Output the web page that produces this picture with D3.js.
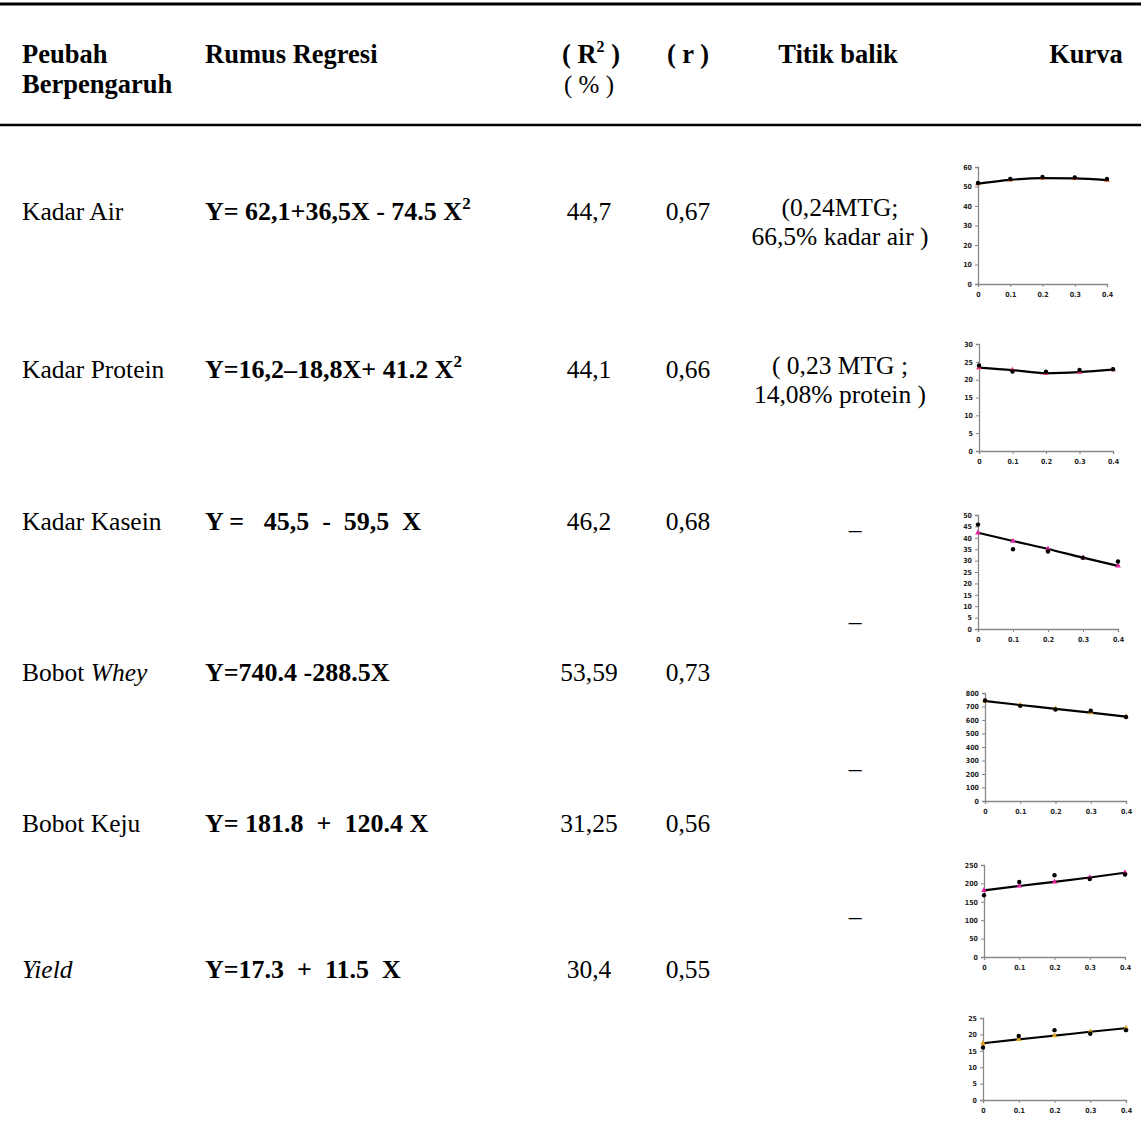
<!DOCTYPE html>
<html>
<head>
<meta charset="utf-8">
<script src="https://cdn.jsdelivr.net/npm/d3@7"></script>
<style>
  body { margin: 0; background: #fff; }
  svg { display: block; }
  .cell { font-family: "Liberation Serif", "Times New Roman", serif; font-size: 25.5px; fill: #000; }
  .head { font-weight: bold; font-size: 26.5px; }
  .mini text { font-family: "DejaVu Sans Condensed", "DejaVu Sans", sans-serif; font-size: 7px; font-weight: bold; fill: #222; }
</style>
</head>
<body>
<svg id="tabel" width="1141" height="1128"></svg>
<script>
// isi tabel
const peubah = ['Kadar Air', 'Kadar Protein', 'Kadar Kasein', 'Bobot |Whey|', 'Bobot Keju', '|Yield|'];
const rumus = ['Y= 62,1+36,5X - 74.5 X^2', 'Y=16,2\u201318,8X+ 41.2 X^2', 'Y =   45,5  -  59,5  X',
  'Y=740.4 -288.5X', 'Y= 181.8  +  120.4 X', 'Y=17.3  +  11.5  X'];
const rSquare = ['44,7', '44,1', '46,2', '53,59', '31,25', '30,4'];
const rValue = ['0,67', '0,66', '0,68', '0,73', '0,56', '0,55'];
const titikBalik = [['(0,24MTG;', '66,5% kadar air )'], ['( 0,23 MTG ;', '14,08% protein )'], ['\u2013'], ['\u2013'], ['\u2013'], ['\u2013']];

// data kurva
const dosis = [0, 0.1, 0.2, 0.3, 0.4];
const airObs = [51.8, 53.9, 54.9, 54.6, 53.9];
const airFit = [51.5, 53.4, 54.3, 54.2, 53.3];
const proteinObs = [24.0, 22.3, 22.2, 22.7, 22.9];
const proteinFit = [23.4, 22.7, 21.8, 22.1, 22.8];
const kaseinObs = [45.8, 35.0, 34.0, 31.2, 29.6];
const kaseinFit = [42.2, 38.6, 35.1, 31.3, 27.7];
const wheyObs = [745, 705, 678, 668, 622];
const wheyFit = [740, 711, 683, 654, 625];
const kejuObs = [168, 204, 222, 212, 224];
const kejuFit = [181, 193, 204, 216, 229];
const yieldObs = [16.0, 19.5, 21.3, 20.2, 21.3];
const yieldFit = [17.3, 18.5, 19.6, 20.8, 21.9];

const yMax = [60, 30, 50, 800, 250, 25];
const yStep = [10, 5, 5, 100, 50, 5];
const obsList = [airObs, proteinObs, kaseinObs, wheyObs, kejuObs, yieldObs];
const fitList = [airFit, proteinFit, kaseinFit, wheyFit, kejuFit, yieldFit];
const fitColor = ['#d9541e', '#e0306a', '#e020a0', '#e0a020', '#e020a0', '#e0a020'];

const rowY = [220, 378, 530, 681, 832, 978];
const dashY = [null, null, 538, 630, 777, 925];
// kotak grafik: [kiri, kanan, atas, bawah]
const box = [[978, 1107, 167, 284], [979, 1113, 344, 451], [978, 1118, 515, 629],
  [985, 1126, 693, 801], [984, 1125, 865, 957], [983, 1126, 1018, 1100]];

const svg = d3.select('#tabel');

// garis tabel
svg.append('line').attr('x1', 0).attr('x2', 1141).attr('y1', 4).attr('y2', 4)
  .attr('stroke', '#000').attr('stroke-width', 3);
svg.append('line').attr('x1', 0).attr('x2', 1141).attr('y1', 125).attr('y2', 125)
  .attr('stroke', '#000').attr('stroke-width', 2.5);

// kepala tabel
const head = svg.append('g').attr('class', 'cell head');
head.append('text').attr('x', 22).attr('y', 63).text('Peubah');
head.append('text').attr('x', 22).attr('y', 93).text('Berpengaruh');
head.append('text').attr('x', 205).attr('y', 63).text('Rumus Regresi');
const r2 = head.append('text').attr('x', 591).attr('y', 63).attr('text-anchor', 'middle');
r2.append('tspan').text('( R');
r2.append('tspan').attr('dy', -11).attr('font-size', 16).text('2');
r2.append('tspan').attr('dy', 11).text(' )');
head.append('text').attr('x', 589).attr('y', 93).attr('text-anchor', 'middle')
  .attr('font-weight', 'normal').attr('font-size', 25).text('( % )');
head.append('text').attr('x', 688).attr('y', 63).attr('text-anchor', 'middle').text('( r )');
head.append('text').attr('x', 838).attr('y', 63).attr('text-anchor', 'middle').text('Titik balik');
head.append('text').attr('x', 1086).attr('y', 63).attr('text-anchor', 'middle').text('Kurva');

// baris
const rows = svg.append('g').attr('class', 'cell');
peubah.forEach((p, i) => {
  const t = rows.append('text').attr('x', 22).attr('y', rowY[i]);
  p.split('|').forEach((part, k) => {
    if (part) t.append('tspan').attr('font-style', k % 2 ? 'italic' : 'normal').text(part);
  });

  const f = rows.append('text').attr('x', 205).attr('y', rowY[i]).attr('font-weight', 'bold')
    .attr('font-size', 26).style('white-space', 'pre');
  const parts = rumus[i].split('^');
  f.append('tspan').text(parts[0]);
  if (parts[1]) {
    f.append('tspan').attr('dy', -11).attr('font-size', 17).text(parts[1]);
  }

  rows.append('text').attr('x', 589).attr('y', rowY[i]).attr('text-anchor', 'middle').text(rSquare[i]);
  rows.append('text').attr('x', 688).attr('y', rowY[i]).attr('text-anchor', 'middle').text(rValue[i]);

  if (titikBalik[i].length > 1) {
    titikBalik[i].forEach((s, k) => {
      rows.append('text').attr('x', 840).attr('y', rowY[i] - 4 + k * 29)
        .attr('text-anchor', 'middle').text(s);
    });
  } else {
    rows.append('text').attr('x', 855).attr('y', dashY[i]).attr('text-anchor', 'middle').text(titikBalik[i][0]);
  }
});

// grafik kecil
box.forEach((b, i) => {
  const g = svg.append('g').attr('class', 'mini');
  const x = d3.scaleLinear().domain([0, 0.4]).range([b[0], b[1]]);
  const y = d3.scaleLinear().domain([0, yMax[i]]).range([b[3], b[2]]);

  const yAxis = d3.axisLeft(y).tickValues(d3.range(0, yMax[i] + 1e-9, yStep[i]))
    .tickSize(3).tickPadding(3).tickFormat(d3.format('d'));
  const ya = g.append('g').attr('transform', `translate(${b[0]},0)`).call(yAxis);
  const xAxis = d3.axisBottom(x).tickValues(dosis).tickSize(3).tickPadding(5)
    .tickFormat(d => d === 0 ? '0' : d3.format('.1f')(d));
  const xa = g.append('g').attr('transform', `translate(0,${b[3]})`).call(xAxis);
  [ya, xa].forEach(a => {
    a.select('.domain').attr('stroke', '#888').attr('stroke-width', 1.3);
    a.selectAll('.tick line').attr('stroke', '#888');
    a.selectAll('text').attr('fill', '#222');
  });

  const line = d3.line().x((d, k) => x(dosis[k])).y(d => y(d)).curve(d3.curveMonotoneX);
  g.append('path').datum(fitList[i]).attr('d', line)
    .attr('fill', 'none').attr('stroke', '#000').attr('stroke-width', 2.2);

  const tri = d3.symbol().type(d3.symbolTriangle).size(14);
  g.selectAll('.fit').data(fitList[i]).enter().append('path')
    .attr('d', tri).attr('fill', fitColor[i])
    .attr('transform', (d, k) => `translate(${x(dosis[k])},${y(d)})`);
  g.selectAll('.obs').data(obsList[i]).enter().append('circle')
    .attr('cx', (d, k) => x(dosis[k])).attr('cy', d => y(d)).attr('r', 2.2).attr('fill', '#000');
});
</script>
</body>
</html>
